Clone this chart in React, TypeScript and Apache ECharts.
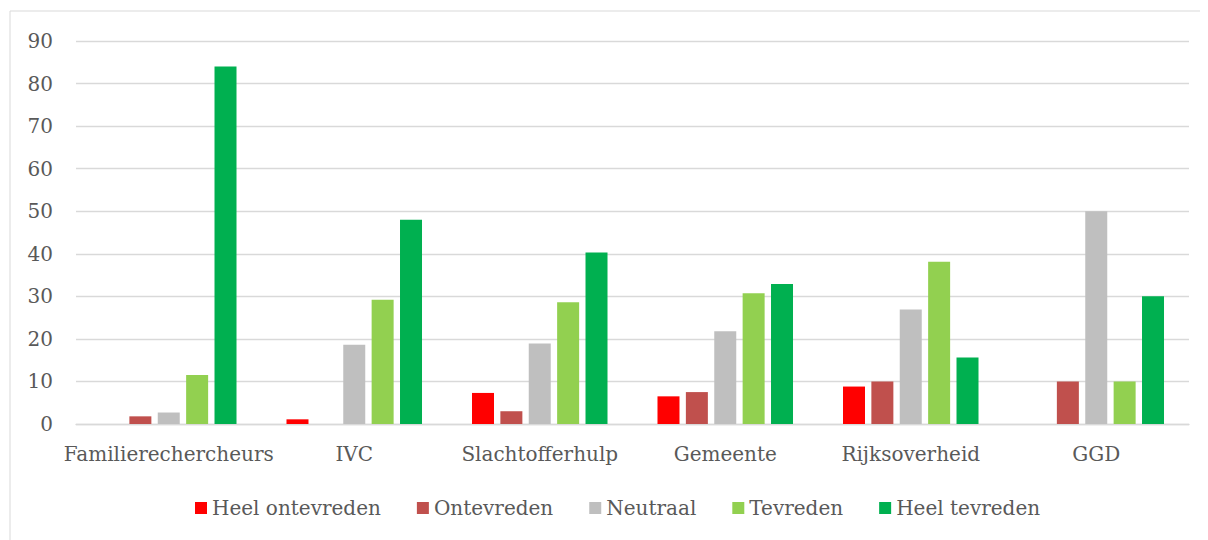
import React, { useEffect, useRef } from "react";
import * as echarts from "echarts";

const categories = ["Familierechercheurs", "IVC", "Slachtofferhulp", "Gemeente", "Rijksoverheid", "GGD"];
const seriesNames = ["Heel ontevreden", "Ontevreden", "Neutraal", "Tevreden", "Heel tevreden"];
const heelOntevreden = [0, 1.1, 7.3, 6.5, 8.8, 0];
const ontevreden = [1.8, 0, 3.0, 7.5, 10, 10];
const neutraal = [2.7, 18.6, 18.9, 21.8, 26.9, 50];
const tevreden = [11.5, 29.2, 28.6, 30.7, 38.1, 10];
const heelTevreden = [84, 48, 40.3, 32.9, 15.6, 30];
const colors = ["#FF0000", "#C0504D", "#BFBFBF", "#92D050", "#00B050"];
const yTicks = { min: 0, max: 90, interval: 10 };

export default function App() {
  const ref = useRef<HTMLDivElement>(null);
  useEffect(() => {
    if (!ref.current) return;
    const chart = echarts.init(ref.current, undefined, { renderer: "svg" });
    const values = [heelOntevreden, ontevreden, neutraal, tevreden, heelTevreden];
    const font = "DejaVu Serif";
    chart.setOption({
      animation: false,
      textStyle: { fontFamily: font },
      graphic: [
        {
          type: "rect",
          shape: { x: 2, y: 3, width: 1300, height: 700 },
          style: { fill: "none", stroke: "#D9D9D9", lineWidth: 1 },
          silent: true,
        },
      ],
      grid: { left: 68, right: 19, top: 33, bottom: 116, containLabel: false },
      legend: {
        data: seriesNames,
        top: 485,
        left: 182,
        padding: [5, 5, 5, 5],
        itemWidth: 12,
        itemHeight: 12,
        itemGap: 36,
        icon: "rect",
        textStyle: { color: "#595959", fontSize: 20, fontFamily: font },
      },
      xAxis: {
        type: "category",
        data: categories,
        axisLine: { show: true, lineStyle: { color: "#D9D9D9", width: 1.3 } },
        axisTick: { show: false },
        axisLabel: { color: "#595959", fontSize: 20, margin: 20, interval: 0, fontFamily: font },
      },
      yAxis: {
        type: "value",
        min: yTicks.min,
        max: yTicks.max,
        interval: yTicks.interval,
        axisLine: { show: false },
        axisTick: { show: false },
        splitLine: { lineStyle: { color: "#D9D9D9", width: 1.3 } },
        axisLabel: { color: "#595959", fontSize: 20, margin: 23, fontFamily: font },
      },
      series: values.map((v, i) => ({
        name: seriesNames[i],
        type: "bar",
        data: v,
        barWidth: 22,
        barGap: "29%",
        itemStyle: { color: colors[i] },
      })),
    });
    return () => chart.dispose();
  }, []);
  return <div ref={ref} style={{ width: 1200, height: 532 }} />;
}
